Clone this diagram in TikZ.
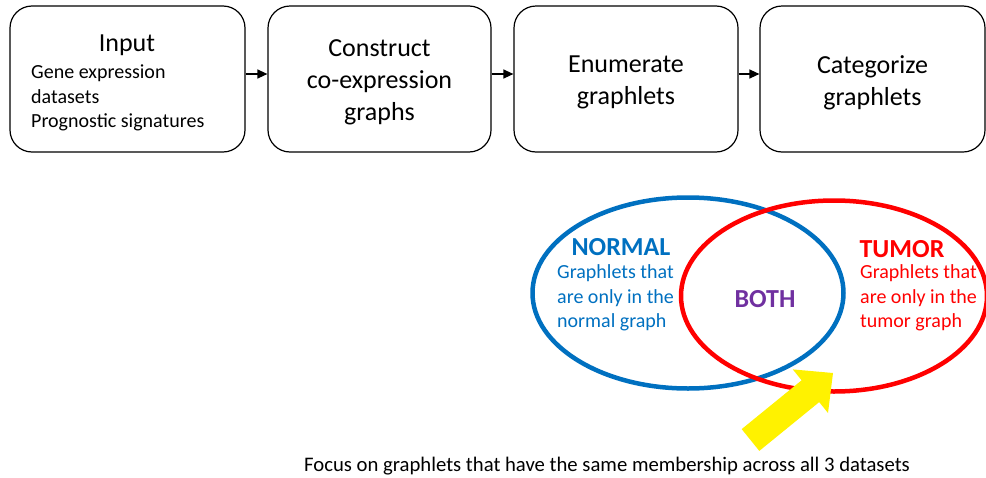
\documentclass[tikz,border=0pt]{standalone}
\usepackage{fontspec}
\setmainfont{Carlito}
\usetikzlibrary{positioning,arrows.meta}
\definecolor{normblue}{RGB}{0,112,192}
\definecolor{tumred}{RGB}{255,0,0}
\definecolor{bothpurple}{RGB}{112,48,160}

\begin{document}
\begin{tikzpicture}[x=1pt, y=-1pt, node distance=246.5pt,
                    block/.style={rectangle, rounded corners=22pt, draw, line width=1.2pt, minimum height=146pt},
                    blocktext/.style={align=center, font=\fontsize{26}{32}\selectfont},
                    flow/.style={-{Triangle[length=10pt,width=9pt]}, line width=1.3pt},
                    setring/.style={line width=4.5pt},
                    label/.style={font=\bfseries\fontsize{26}{31}\selectfont},
                    body/.style={font=\fontsize{20}{24.5}\selectfont, align=left, inner sep=0pt}]
  \useasboundingbox (0,0) rectangle (986,477);
  % pipeline
  \node[block, minimum width=235pt] (input) at (127.5,79) {};
  \node[block, minimum width=223pt, right of=input, node distance=252pt] (construct) {};
  \node[block, minimum width=224pt, right of=construct] (enumerate) {};
  \node[block, minimum width=225pt, right of=enumerate] (categorize) {};
  \node[blocktext] (inputtitle) at (127,45) {Input};
  \node[body, anchor=west] (inputlist) at (31,98) {Gene expression\\datasets\\Prognostic signatures};
  \node[blocktext] (constructtext) at ([yshift=-3.5pt]construct.center) {Construct\\co-expression\\graphs};
  \node[blocktext] (enumeratetext) at ([yshift=-3.5pt]enumerate.center) {Enumerate\\graphlets};
  \node[blocktext] (categorizetext) at ([yshift=-3.5pt]categorize.center) {Categorize\\graphlets};
  \draw[flow] ([yshift=5pt]input.east) -- ([yshift=5pt]construct.west);
  \draw[flow] ([yshift=5pt]construct.east) -- ([yshift=5pt]enumerate.west);
  \draw[flow] ([yshift=5pt]enumerate.east) -- ([yshift=5pt]categorize.west);
  % venn
  \draw[setring, normblue] (688,293) ellipse [x radius=155.5pt, y radius=95.5pt];
  \draw[setring, tumred] (834,296) ellipse [x radius=153pt, y radius=95.5pt];
  \node[label, text=normblue] (normal) at (621,247) {NORMAL};
  \node[body, text=normblue, anchor=west] (normaltext) at (557,298) {Graphlets that\\are only in the\\normal graph};
  \node[label, text=bothpurple] (both) at (765,299) {BOTH};
  \node[label, text=tumred] (tumor) at (902,249) {TUMOR};
  \node[body, text=tumred, anchor=west] (tumortext) at (860,298) {Graphlets that\\are only in the\\tumor graph};
  % pointer
  \fill[yellow] (759.3,450.9) -- (819.2,402.1) -- (828,413) -- (833,373)
                -- (792.8,369.4) -- (801.6,380.3) -- (741.7,429.1) -- cycle;
  \node[font=\fontsize{20.7}{24}\selectfont] (focus) at (607,466)
       {Focus on graphlets that have the same membership across all 3 datasets};
\end{tikzpicture}
\end{document}
